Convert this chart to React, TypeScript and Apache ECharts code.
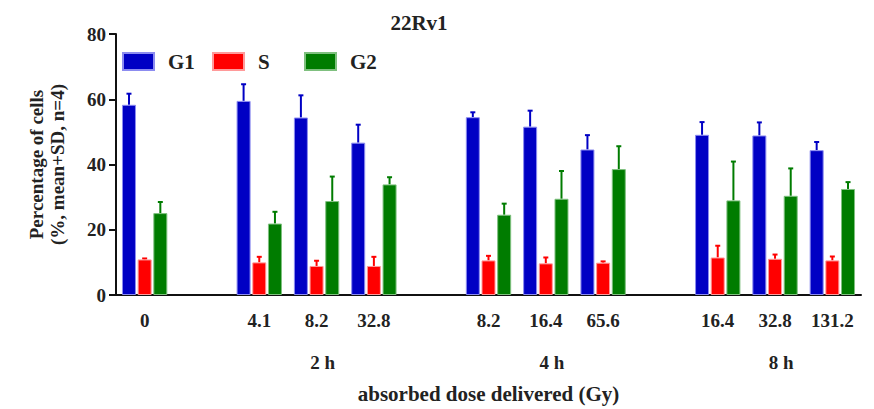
import React, { useEffect, useRef } from "react";
import * as echarts from "echarts";

const categories = ["0", "", "4.1", "8.2", "32.8", "", "8.2", "16.4", "65.6", "", "16.4", "32.8", "131.2"];
const groupLabels = ["", "", "", "2 h", "", "", "", "4 h", "", "", "", "8 h", ""];
const yTicks = [0, 20, 40, 60, 80];

const g1Mean = [58.3, null, 59.5, 54.4, 46.7, null, 54.5, 51.6, 44.6, null, 49.1, 48.9, 44.4];
const g1Top = [61.7, null, 64.6, 61.2, 52.2, null, 56.0, 56.5, 49.0, null, 53.0, 52.9, 46.9];
const sMean = [10.9, null, 10.0, 8.9, 8.9, null, 10.6, 9.7, 9.9, null, 11.5, 11.1, 10.6];
const sTop = [11.2, null, 11.7, 10.5, 11.7, null, 12.0, 11.5, 10.3, null, 15.1, 12.4, 11.8];
const g2Mean = [25.1, null, 21.9, 28.8, 33.9, null, 24.6, 29.5, 38.6, null, 29.0, 30.4, 32.5];
const g2Top = [28.5, null, 25.5, 36.3, 36.1, null, 28.0, 38.0, 45.6, null, 40.9, 38.8, 34.6];

const seriesNames = ["G1", "S", "G2"];
const colors = ["#0000c4", "#ff0000", "#007c00"];
const borders = ["#8c8cf0", "#ff9a9a", "#7fc07f"];
const legendLefts = [122, 212, 304];

const FONT = "'Liberation Serif', 'Times New Roman', serif";
const BAR_W = 14;
const BAR_GAP = 0.12;

export default function App() {
  const ref = useRef<HTMLDivElement>(null);
  useEffect(() => {
    if (!ref.current) return;
    const chart = echarts.init(ref.current, null, { renderer: "svg" });
    const means = [g1Mean, sMean, g2Mean];
    const tops = [g1Top, sTop, g2Top];

    const barSeries = means.map((m, i) => ({
      name: seriesNames[i],
      type: "bar",
      data: m,
      barWidth: BAR_W,
      barGap: `${BAR_GAP * 100}%`,
      itemStyle: { color: colors[i], borderColor: borders[i], borderWidth: 1 },
      z: 2,
    }));

    const errSeries = tops.map((t, i) => ({
      name: seriesNames[i] + " SD",
      type: "custom",
      xAxisIndex: 0,
      yAxisIndex: 0,
      z: 1,
      data: t.map((v, k) => (v == null ? [k, null, null] : [k, v, means[i][k]])),
      encode: { x: 0, y: 1 },
      renderItem: (params: any, api: any) => {
        const top = api.value(1);
        const mean = api.value(2);
        if (top == null || isNaN(top)) return null;
        const off = (i - 1) * BAR_W * (1 + BAR_GAP);
        const pTop = api.coord([api.value(0), top]);
        const pMean = api.coord([api.value(0), mean]);
        const x = pTop[0] + off;
        const cap = 2.5;
        const st = { stroke: colors[i], lineWidth: 2 };
        return {
          type: "group",
          children: [
            { type: "line", shape: { x1: x, y1: pMean[1], x2: x, y2: pTop[1] }, style: st },
            { type: "line", shape: { x1: x - cap, y1: pTop[1], x2: x + cap, y2: pTop[1] }, style: st },
          ],
        };
      },
    }));

    const legends = seriesNames.map((n, i) => ({
      data: [n],
      left: legendLefts[i],
      top: 51,
      padding: 0,
      itemWidth: 31,
      itemHeight: 17,
      itemGap: 14,
      icon: "rect",
      textStyle: {
        fontFamily: FONT,
        fontWeight: "bold",
        fontSize: 21,
        color: "#222",
        padding: [0, 0, 0, 9],
      },
    }));

    chart.setOption({
      animation: false,
      title: {
        text: "22Rv1",
        left: 414,
        textAlign: "center",
        top: 7,
        textStyle: { fontFamily: FONT, fontWeight: "bold", fontSize: 21, color: "#222" },
      },
      legend: legends,
      grid: { left: 116, right: 13, top: 34, bottom: 110 },
      xAxis: [
        {
          type: "category",
          data: categories,
          position: "bottom",
          axisLine: { lineStyle: { color: "#111", width: 2 } },
          axisTick: { alignWithLabel: true, length: 5, lineStyle: { width: 2, color: "#111" } },
          axisLabel: {
            interval: 0,
            margin: 16,
            fontFamily: FONT,
            fontWeight: "bold",
            fontSize: 19,
            color: "#222",
          },
          name: "absorbed dose delivered (Gy)",
          nameLocation: "middle",
          nameGap: 88,
          nameTextStyle: { fontFamily: FONT, fontWeight: "bold", fontSize: 21, color: "#222" },
        },
        {
          type: "category",
          data: groupLabels,
          position: "bottom",
          offset: 0,
          gridIndex: 0,
          axisLine: { show: false },
          axisTick: { show: false },
          axisLabel: {
            interval: 0,
            margin: 58,
            padding: [0, 0, 0, 12],
            fontFamily: FONT,
            fontWeight: "bold",
            fontSize: 19,
            color: "#222",
          },
        },
      ],
      yAxis: {
        type: "value",
        min: yTicks[0],
        max: yTicks[yTicks.length - 1],
        interval: yTicks[1] - yTicks[0],
        splitLine: { show: false },
        axisLine: { show: true, lineStyle: { color: "#111", width: 2 } },
        axisTick: { show: true, length: 7, lineStyle: { width: 2, color: "#111" } },
        axisLabel: { margin: 10, fontFamily: FONT, fontWeight: "bold", fontSize: 19, color: "#222" },
        name: "Percentage of cells\n(%, mean+SD, n=4)",
        nameLocation: "middle",
        nameRotate: 90,
        nameGap: 48,
        nameTextStyle: { fontFamily: FONT, fontWeight: "bold", fontSize: 19, color: "#222", lineHeight: 21 },
      },
      series: [...barSeries, ...errSeries],
    });
    return () => chart.dispose();
  }, []);
  return (
    <div
      ref={ref}
      style={{ position: "fixed", left: 0, top: 0, width: 874, height: 409, background: "#fff" }}
    />
  );
}
